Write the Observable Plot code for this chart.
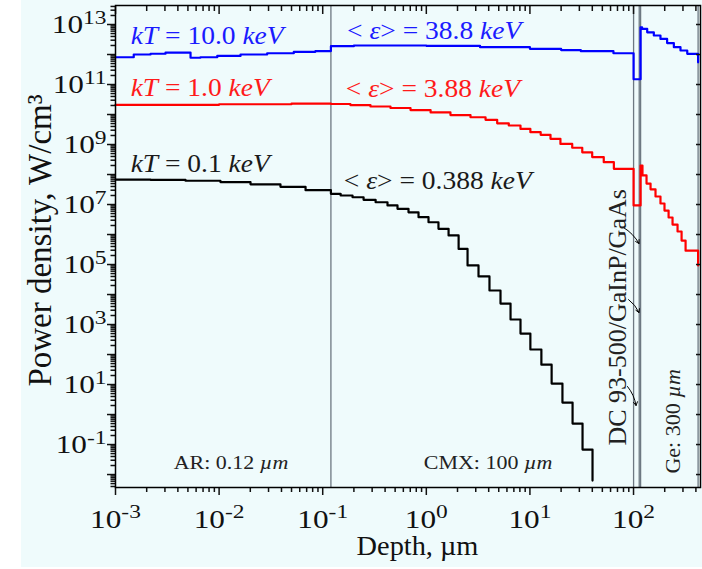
<!DOCTYPE html>
<html><head><meta charset="utf-8">
<script src="https://cdn.jsdelivr.net/npm/d3@7"></script>
<script src="https://cdn.jsdelivr.net/npm/@observablehq/plot@0.6"></script>
<style>
html,body{margin:0;padding:0;background:#fff;}
#bg{position:absolute;left:21px;top:0;width:681px;height:567px;background:#effbfc;}
#chart{position:absolute;left:0;top:0;}
</style></head><body><div id="bg"></div><div id="chart"></div>
<script>
// ---------- data ----------
const blackDepth = [0.001, 0.00218, 0.00474, 0.0103, 0.0201, 0.0391, 0.0683, 0.12, 0.149, 0.194, 0.248, 0.324, 0.422, 0.527, 0.673, 0.841, 1.05, 1.31, 1.64, 2.05, 2.50, 3.19, 4.07, 5.20, 6.50, 8.11, 10.1, 12.9, 16.2, 20.6, 25.8, 32.2, 40.2];
const blackPower = [6.8e7, 6.6e7, 6.2e7, 5.6e7, 4.7e7, 3.9e7, 3.0e7, 2.27e7, 2.0e7, 1.75e7, 1.43e7, 1.19e7, 9.3e6, 7.2e6, 5.5e6, 3.8e6, 2.57e6, 1.55e6, 9.3e5, 3.3e5, 9.3e4, 4.0e4, 1.36e4, 5.0e3, 1.47e3, 500, 147, 46, 10.8, 2.5, 0.5, 0.068, 0.0063];

const redDepth = [0.001, 0.01, 0.05, 0.12, 0.185, 0.289, 0.451, 0.704, 1.10, 1.71, 2.67, 3.73, 4.83, 6.25, 8.11, 10.1, 12.7, 15.8, 19.7, 25.6, 32.0, 39.9, 51.6, 64.6, 100.12, 117, 122, 133.5, 146, 163, 182, 199, 218, 238, 266, 291, 318, 420];
const redPower = [2.1e10, 2.2e10, 2.3e10, 2.24e10, 2.07e10, 1.85e10, 1.65e10, 1.41e10, 1.17e10, 9.6e9, 8.1e9, 6.65e9, 5.1e9, 4.3e9, 3.3e9, 2.57e9, 2.1e9, 1.55e9, 1.05e9, 7.8e8, 5.5e8, 3.8e8, 2.57e8, 1.55e8, 9.3e6, 2.0e8, 9.3e7, 5.0e7, 3.2e7, 1.85e7, 1.08e7, 6.3e6, 3.7e6, 2.15e6, 1.26e6, 6.3e5, 2.9e5, 9.3e4];

const blueDepth = [0.001, 0.0015, 0.00218, 0.00304, 0.0053, 0.0066, 0.0096, 0.0161, 0.0291, 0.0526, 0.085, 0.12, 0.2, 1.0, 3.3, 10, 20, 31, 64, 100.12, 117, 121, 135.5, 157, 182, 211, 245, 284, 330, 420];
const bluePower = [8.1e11, 1.0e12, 1.06e12, 1.16e12, 7.8e11, 8.1e11, 9.0e11, 1.0e12, 1.1e12, 1.23e12, 1.3e12, 1.9e12, 2.0e12, 1.95e12, 1.75e12, 1.55e12, 1.4e12, 1.29e12, 1.1e12, 1.5e11, 8.1e12, 7.2e12, 5.5e12, 4.3e12, 3.3e12, 2.4e12, 1.75e12, 1.36e12, 1.05e12, 5.5e11];

// layer boundaries (µm)
const boundaries = [0.12, 100.12, 113.5, 117, 420];

// ticks
const xMin = 1e-3, xMax = 443;
const yMin = 0.0037, yMax = 4.3e13;
const xMajor = [1e-3, 1e-2, 1e-1, 1, 10, 100];
const xMinor = d3.range(-3, 3).flatMap(e => d3.range(2, 10).map(m => m * 10 ** e)).filter(v => v < xMax);
const yMajor = d3.range(-2, 14).map(e => 10 ** e);
const yMinor = d3.range(-3, 14).flatMap(e => d3.range(2, 10).map(m => m * 10 ** e)).filter(v => v > yMin && v < yMax);
const yLabelExps = [13, 11, 9, 7, 5, 3, 1, -1];

// annotations
const bigText = ["*kT* = 10.0 *keV*", "*kT* = 1.0 *keV*", "*kT* = 0.1 *keV*", "< *ε*> = 38.8 *keV*", "< *ε*> = 3.88 *keV*", "< *ε*> = 0.388 *keV*"];
const bigX = [0.0014, 0.0014, 0.0014, 0.172, 0.167, 0.160];
const bigY = [2.27e12, 4.3e10, 1.19e8, 3.3e12, 3.8e10, 3.3e7];
const bigColor = ["#1a1aff", "#ff1a1a", "#1a1a1a", "#1a1aff", "#ff1a1a", "#1a1a1a"];

const layerText = ["AR: 0.12 *µm*", "CMX: 100 *µm*"];
const layerX = [0.00365, 0.946];
const layerY = [0.0155, 0.0155];

const vertText = ["DC 93-500/GaInP/GaAs", "Ge: 300 *µm*"];
const vertX = [83.7, 284];
const vertY = [0.0926, 0.0108];
const vertSize = [26, 22];

const arrowX1 = [80, 89.5, 87.5], arrowY1 = [1.71e6, 6.8e3, 8.6];
const arrowX2 = [113, 113, 105.7], arrowY2 = [5.0e5, 2.5e3, 2.0];

// ---------- build rows ----------
const rows = (xs, ys) => xs.map((x, i) => ({depth: x, power: ys[i]}));
const black = rows(blackDepth, blackPower);
const red = rows(redDepth, redPower);
const blue = rows(blueDepth, bluePower);
const big = bigText.map((t, i) => ({t, x: bigX[i], y: bigY[i], c: bigColor[i]}));
const layers = layerText.map((t, i) => ({t, x: layerX[i], y: layerY[i]}));
const verts = vertText.map((t, i) => ({t, x: vertX[i], y: vertY[i], s: vertSize[i]}));
const arrows = arrowX1.map((x, i) => ({x1: x, y1: arrowY1[i], x2: arrowX2[i], y2: arrowY2[i]}));

const expFmt = d => "10^" + Math.round(Math.log10(d));
const yFmt = d => { const e = Math.round(Math.log10(d)); return yLabelExps.includes(e) ? "10^" + e : ""; };
const blank = () => "";
const tickW = 1.5;

const svg = Plot.plot({
  width: 702, height: 569,
  marginLeft: 115, marginRight: 2, marginTop: 5, marginBottom: 82,
  style: {fontFamily: "'Liberation Serif','Times New Roman',serif", fontSize: "25px", background: "transparent", color: "#111", overflow: "visible"},
  x: {type: "log", domain: [xMin, xMax], label: null},
  y: {type: "log", domain: [yMin, yMax], label: null},
  color: {type: "identity"},
  marks: [
    Plot.ruleX(boundaries, {stroke: "#6d7882", strokeWidth: 1.3}),
    Plot.line(black, {x: "depth", y: "power", curve: "step-after", stroke: "#000", strokeWidth: 2.2}),
    Plot.line(red, {x: "depth", y: "power", curve: "step-after", stroke: "#ff0000", strokeWidth: 2.2}),
    Plot.line(blue, {x: "depth", y: "power", curve: "step-after", stroke: "#0000ff", strokeWidth: 2.2}),
    Plot.arrow(arrows, {x1: "x1", y1: "y1", x2: "x2", y2: "y2", stroke: "#000", strokeWidth: 1, headLength: 6, bend: 15}),
    // axes
    Plot.axisX(xMinor, {tickSize: 5, tickFormat: blank, strokeWidth: tickW, label: null}),
    Plot.axisX(xMajor, {tickSize: 8, tickPadding: 15, tickFormat: expFmt, strokeWidth: tickW, label: null, fill: "#111"}),
    Plot.axisX(xMinor, {anchor: "top", tickSize: 5, dy: 5, tickFormat: blank, strokeWidth: tickW, label: null}),
    Plot.axisX(xMajor, {anchor: "top", tickSize: 8, dy: 8, tickFormat: blank, strokeWidth: tickW, label: null}),
    Plot.axisY(yMinor, {tickSize: 4.5, tickFormat: blank, strokeWidth: tickW, label: null}),
    Plot.axisY(yMajor, {tickSize: 8, tickPadding: 1, tickFormat: yFmt, strokeWidth: tickW, label: null, fill: "#111"}),
    Plot.axisY(yMajor, {anchor: "right", tickSize: 5, dx: -5, tickFormat: blank, strokeWidth: tickW, label: null}),
    Plot.frame({stroke: "#000", strokeWidth: 1.5}),
    // annotations
    Plot.text(big, {x: "x", y: "y", text: "t", fill: "c", textAnchor: "start", lineAnchor: "bottom", fontSize: 25, ariaDescription: "big-label"}),
    Plot.text(layers, {x: "x", y: "y", text: "t", fill: "#222", textAnchor: "start", lineAnchor: "bottom", fontSize: 18, ariaDescription: "layer-label"}),
    Plot.text(verts, {x: "x", y: "y", text: "t", fill: "#222", textAnchor: "start", lineAnchor: "bottom", rotate: -90, fontSize: "s", ariaDescription: "vert-label"}),
    Plot.text(["Depth, µm"], {frameAnchor: "bottom", text: d => d, dx: 9.5, dy: 67, textAnchor: "middle", lineAnchor: "bottom", fontSize: 27, fill: "#111", ariaDescription: "x-title"}),
    Plot.text(["Power density, W/cm³"], {frameAnchor: "left", text: d => d, dx: -65, dy: -6, rotate: -90, textAnchor: "middle", lineAnchor: "bottom", fontSize: 33, fill: "#111", ariaDescription: "y-title"})
  ]
});
document.getElementById("chart").append(svg);

// ---------- rich text: *italic* and ^superscript ----------
const NS = "http://www.w3.org/2000/svg";
function richify(el, supDy) {
  const s = el.textContent;
  if (!s || (!s.includes("*") && !s.includes("^"))) return;
  while (el.firstChild) el.removeChild(el.firstChild);
  const [main, sup] = s.split("^");
  main.split("*").forEach((part, i) => {
    if (!part) return;
    const t = document.createElementNS(NS, "tspan");
    if (i % 2 === 1) t.setAttribute("font-style", "italic");
    t.textContent = part;
    el.appendChild(t);
  });
  if (sup !== undefined) {
    const t = document.createElementNS(NS, "tspan");
    t.setAttribute("font-size", "0.75em");
    t.setAttribute("dy", supDy);
    t.textContent = sup;
    el.appendChild(t);
  }
}
const sel = name => `g[aria-label="${name}"] text, g[aria-description="${name}"] text, text[aria-label="${name}"]`;
function stretch(selector, f) {
  svg.querySelectorAll(selector).forEach(el => {
    const w = el.getComputedTextLength();
    if (w > 0) {
      el.setAttribute("textLength", (w * f).toFixed(1));
      el.setAttribute("lengthAdjust", "spacingAndGlyphs");
    }
  });
}
svg.querySelectorAll(sel("x-axis tick label")).forEach(el => richify(el, -10));
svg.querySelectorAll(sel("y-axis tick label")).forEach(el => richify(el, -9));
[sel("big-label"), sel("layer-label"), sel("vert-label")].forEach(s => svg.querySelectorAll(s).forEach(el => richify(el, 0)));
stretch(sel("x-axis tick label"), 1.25);
stretch(sel("y-axis tick label"), 1.25);
stretch(sel("big-label"), 1.1);
stretch(sel("layer-label"), 1.22);
stretch(sel("x-title"), 1.05);
</script></body></html>
